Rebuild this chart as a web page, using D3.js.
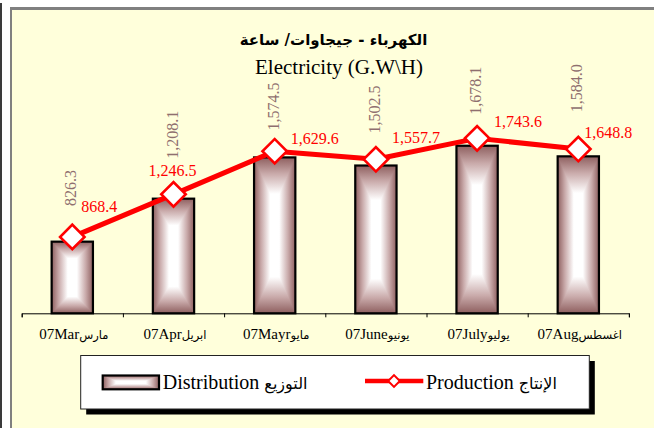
<!DOCTYPE html>
<html><head><meta charset="utf-8">
<script src="https://cdn.jsdelivr.net/npm/d3@7"></script>
<style>html,body{margin:0;padding:0;background:#fff;} svg{display:block}</style>
</head><body>
<svg id="c" width="654" height="428"></svg>
<script>
// ---- data ----
const monthsEn = ["07Mar", "07Apr", "07Mayr", "07June", "07July", "07Aug"];
const monthsAr = ["مارس", "ابريل", "مايو", "يونيو", "يوليو", "اغسطس"];
const distribution = [826.3, 1208.1, 1574.5, 1502.5, 1678.1, 1584.0];
const production = [868.4, 1246.5, 1629.6, 1557.7, 1743.6, 1648.8];
const titleAr = "الكهرباء - جيجاوات/ ساعة";
const titleEn = "Electricity (G.W\\H)";
const legendEn = ["Distribution", "Production"];
const legendAr = ["التوزيع", "الإنتاج"];

// ---- layout ----
const svg = d3.select("#c");
const SERIF = "'Liberation Serif','Times New Roman',serif";
const ARAB = "'DejaVu Sans',sans-serif";
const EDGE = "#8e5f5f", MID = "#c9aaaa";
const idx = d3.range(monthsEn.length);

const x = d3.scaleBand().domain(idx).range([21.7, 628.9]).paddingInner(0.592).paddingOuter(0.296);
const xb = d3.scaleLinear().domain([0, idx.length]).range([21.7, 628.9]);
const y = d3.scaleLinear().domain([190, 2000]).range([313.3, 109.5]);
const fmt = d3.format(",.1f");

// gradients
const defs = svg.append("defs");
function lg(id, x1, y1, x2, y2) {
  const g = defs.append("linearGradient").attr("id", id)
    .attr("x1", x1).attr("y1", y1).attr("x2", x2).attr("y2", y2);
  g.append("stop").attr("offset", 0).attr("stop-color", EDGE);
  g.append("stop").attr("offset", 0.35).attr("stop-color", MID);
  g.append("stop").attr("offset", 0.78).attr("stop-color", "#ffffff");
  g.append("stop").attr("offset", 1).attr("stop-color", "#ffffff");
}
lg("gL", 0, 0, 1, 0); lg("gR", 1, 0, 0, 0); lg("gT", 0, 0, 0, 1); lg("gB", 0, 1, 0, 0);

function rectGrad(g, x0, y0, w, h) {
  const cx = x0 + w / 2, cy = y0 + h / 2, x1 = x0 + w, y1 = y0 + h;
  g.append("rect").attr("x", x0).attr("y", y0).attr("width", w).attr("height", h).attr("fill", "#f4eeee");
  let pts;
  if (h >= w) {
    const a = Math.min(h * 0.3, h / 2);
    pts = [
      [[x0, y0], [x0, y1], [cx, y1 - a], [cx, y0 + a], "gL"],
      [[x1, y0], [x1, y1], [cx, y1 - a], [cx, y0 + a], "gR"],
      [[x0, y0], [x1, y0], [cx, y0 + a], "gT"],
      [[x0, y1], [x1, y1], [cx, y1 - a], "gB"]
    ];
  } else {
    const a = Math.min(w * 0.3, w / 2);
    pts = [
      [[x0, y0], [x1, y0], [x1 - a, cy], [x0 + a, cy], "gT"],
      [[x0, y1], [x1, y1], [x1 - a, cy], [x0 + a, cy], "gB"],
      [[x0, y0], [x0, y1], [x0 + a, cy], "gL"],
      [[x1, y0], [x1, y1], [x1 - a, cy], "gR"]
    ];
  }
  pts.forEach(p => {
    const id = p.pop();
    g.append("polygon").attr("points", p.map(q => q.join(",")).join(" "))
      .attr("fill", `url(#${id})`).attr("shape-rendering", "crispEdges");
  });
  g.append("rect").attr("x", x0).attr("y", y0).attr("width", w).attr("height", h)
    .attr("fill", "none").attr("stroke", "#000").attr("stroke-width", 2.2);
}

// background / frame
svg.append("rect").attr("width", 654).attr("height", 428).attr("fill", "#fff");
svg.append("rect").attr("x", 0).attr("y", 3).attr("width", 2).attr("height", 425).attr("fill", "#3a3a3a");
svg.append("rect").attr("x", 10).attr("y", 7).attr("width", 650).attr("height", 430).attr("fill", "#808080");
svg.append("rect").attr("x", 12).attr("y", 10).attr("width", 650).attr("height", 430).attr("fill", "#ffffdb");

// titles
svg.append("text").attr("x", 333.5).attr("y", 45).attr("text-anchor", "middle")
  .attr("font-family", ARAB).attr("font-size", 15).attr("font-weight", "bold").text(titleAr);
svg.append("text").attr("x", 339).attr("y", 74).attr("text-anchor", "middle")
  .attr("font-family", SERIF).attr("font-size", 21).text(titleEn);

// bars
const barG = svg.append("g");
idx.forEach(i => {
  const g = barG.append("g");
  rectGrad(g, x(i), y(distribution[i]), x.bandwidth(), y(190) - y(distribution[i]));
});

// axis
const axG = svg.append("g").attr("transform", `translate(0,${y(190)})`)
  .call(d3.axisBottom(xb).tickValues(d3.range(idx.length + 1)).tickFormat("").tickSize(4).tickSizeOuter(4));
axG.selectAll("path,line").attr("stroke", "#000").attr("stroke-width", 1);

const lab = svg.append("g").selectAll("text").data(idx).join("text")
  .attr("x", i => x(i) + x.bandwidth() / 2 + 1.5).attr("y", 339.3)
  .attr("text-anchor", "middle").attr("direction", "ltr");
lab.append("tspan").attr("font-family", SERIF).attr("font-size", 15).text(i => monthsEn[i]);
lab.append("tspan").attr("font-family", ARAB).attr("font-size", 11.5).text(i => monthsAr[i]);

// distribution labels (rotated)
const distOff = [35.7, 40, 27, 32, 31, 44];
svg.append("g").selectAll("text").data(idx).join("text")
  .attr("transform", i => `translate(${x(i) + x.bandwidth() / 2 + 4},${y(distribution[i]) - distOff[i]}) rotate(-90)`)
  .attr("font-family", SERIF).attr("font-size", 16).attr("fill", "#8f6f6f")
  .text(i => fmt(distribution[i]));

// production line
const cx = i => x(i) + x.bandwidth() / 2;
svg.append("path").datum(idx)
  .attr("d", d3.line().x(cx).y(i => y(production[i])))
  .attr("fill", "none").attr("stroke", "#ff0000").attr("stroke-width", 5).attr("stroke-linejoin", "round");
svg.append("g").selectAll("path").data(idx).join("path")
  .attr("d", d3.symbol(d3.symbolSquare, 299)())
  .attr("transform", i => `translate(${cx(i)},${y(production[i])}) rotate(45)`)
  .attr("fill", "#fff").attr("stroke", "#ff0000").attr("stroke-width", 2.6);

const prodOff = [[9, -25], [-25, -18], [16, -7], [16, -16], [17, -11], [6, -11]];
svg.append("g").selectAll("text").data(idx).join("text")
  .attr("x", i => cx(i) + prodOff[i][0]).attr("y", i => y(production[i]) + prodOff[i][1])
  .attr("font-family", SERIF).attr("font-size", 16).attr("fill", "#ff0000")
  .text(i => fmt(production[i]));

// legend
const L = { x: 80.7, y: 355.5, w: 508.6, h: 53.5 };
svg.append("rect").attr("x", L.x + 5.5).attr("y", L.y + 5.5).attr("width", L.w).attr("height", L.h).attr("fill", "#000");
svg.append("rect").attr("x", L.x).attr("y", L.y).attr("width", L.w).attr("height", L.h)
  .attr("fill", "#fff").attr("stroke", "#222").attr("stroke-width", 1);
rectGrad(svg.append("g"), 102.7, 375.5, 56.3, 13.8);
const t1 = svg.append("text").attr("x", 162.7).attr("y", 389).attr("direction", "ltr");
t1.append("tspan").attr("font-family", SERIF).attr("font-size", 20).text(legendEn[0] + " ");
t1.append("tspan").attr("font-family", ARAB).attr("font-size", 16).text(legendAr[0]);

svg.append("line").attr("x1", 365).attr("x2", 423.3).attr("y1", 381).attr("y2", 381)
  .attr("stroke", "#ff0000").attr("stroke-width", 4.5);
svg.append("path").attr("d", d3.symbol(d3.symbolSquare, 68)())
  .attr("transform", "translate(394,381) rotate(45)")
  .attr("fill", "#fff").attr("stroke", "#ff0000").attr("stroke-width", 2);
const t2 = svg.append("text").attr("x", 426).attr("y", 389).attr("direction", "ltr");
t2.append("tspan").attr("font-family", SERIF).attr("font-size", 20).text(legendEn[1] + " ");
t2.append("tspan").attr("font-family", ARAB).attr("font-size", 16).text(legendAr[1]);
</script>
</body></html>
